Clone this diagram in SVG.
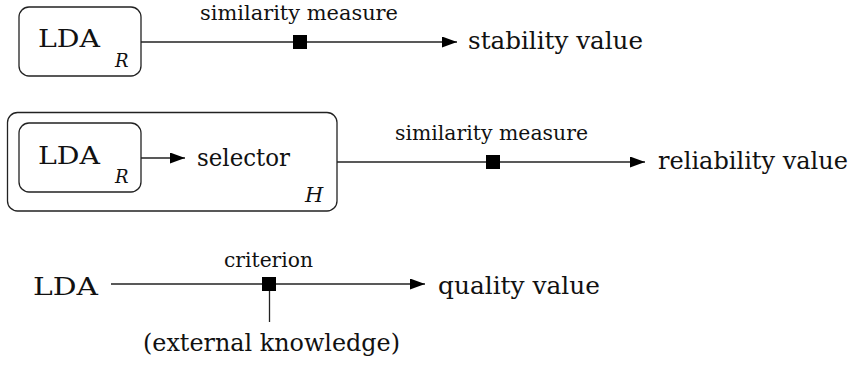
<svg xmlns="http://www.w3.org/2000/svg" width="863" height="369" viewBox="0 0 863 369">
<style>
text{font-family:'DejaVu Serif','Noto Serif',serif;fill:#111}
.box{fill:none;stroke:#222;stroke-width:1.3}
.main{font-size:25px}
.lbl{font-size:20px}
.it{font-style:italic;font-size:18px}
.ln{stroke:#222;stroke-width:1.3;fill:none}
.sq{fill:#000}
</style>
<defs>
<marker id="arr" viewBox="0 0 15 11" refX="15" refY="5.5" markerWidth="15" markerHeight="11" markerUnits="userSpaceOnUse" orient="auto">
<path d="M0,0 L15,5.5 L0,11 z" fill="#000"/>
</marker>
</defs>
<g id="lda1">
<rect class="box" x="19" y="7" width="122" height="69" rx="10"/>
<text class="main" x="38" y="47" textLength="62" lengthAdjust="spacingAndGlyphs">LDA</text>
<text class="it" x="115" y="67">R</text>
</g>
<g id="stability">
<text class="main" x="468" y="49" textLength="175" lengthAdjust="spacingAndGlyphs">stability value</text>
</g>
<g id="H">
<rect class="box" x="7.5" y="112.5" width="329.5" height="98.5" rx="10"/>
<text class="it" x="305" y="202" style="font-size:21px">H</text>
</g>
<g id="lda2">
<rect class="box" x="19" y="123" width="122" height="69" rx="10"/>
<text class="main" x="38" y="164" textLength="62" lengthAdjust="spacingAndGlyphs">LDA</text>
<text class="it" x="115" y="183">R</text>
</g>
<g id="selector">
<text class="main" x="197" y="166" textLength="93" lengthAdjust="spacingAndGlyphs">selector</text>
</g>
<g id="reliability">
<text class="main" x="658" y="169" textLength="190" lengthAdjust="spacingAndGlyphs">reliability value</text>
</g>
<g id="lda3">
<text class="main" x="33" y="295" textLength="65" lengthAdjust="spacingAndGlyphs">LDA</text>
</g>
<g id="quality">
<text class="main" x="438" y="294" textLength="162" lengthAdjust="spacingAndGlyphs">quality value</text>
</g>
<g id="external">
<text class="main" x="143" y="351" textLength="257" lengthAdjust="spacingAndGlyphs">(external knowledge)</text>
</g>
<g id="connectors">
<line class="ln" x1="141" y1="42" x2="457" y2="42" marker-end="url(#arr)"/>
<rect class="sq" x="293" y="35" width="14" height="14"/>
<text class="lbl" x="200" y="20" textLength="198" lengthAdjust="spacingAndGlyphs">similarity measure</text>
<line class="ln" x1="141" y1="158" x2="185" y2="158" marker-end="url(#arr)"/>
<line class="ln" x1="337" y1="162" x2="645" y2="162" marker-end="url(#arr)"/>
<rect class="sq" x="486" y="155" width="14" height="14"/>
<text class="lbl" x="395" y="140" textLength="193" lengthAdjust="spacingAndGlyphs">similarity measure</text>
<line class="ln" x1="111" y1="284" x2="425" y2="284" marker-end="url(#arr)"/>
<rect class="sq" x="262" y="277" width="14" height="14"/>
<line class="ln" x1="269.5" y1="291" x2="269.5" y2="322"/>
<text class="lbl" x="224" y="267" textLength="89" lengthAdjust="spacingAndGlyphs">criterion</text>
</g>
</svg>
